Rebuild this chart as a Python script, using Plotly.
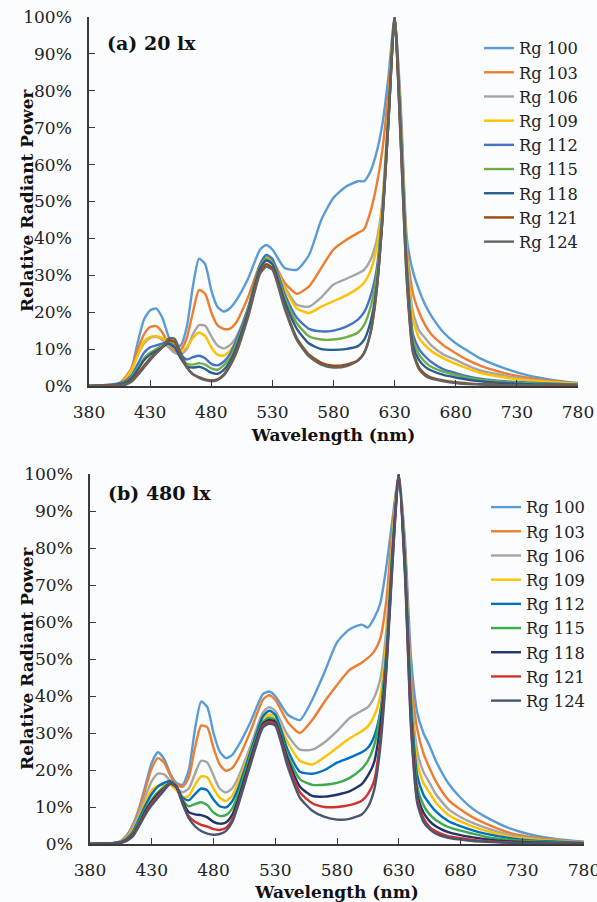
import plotly.graph_objects as go

wavelength = [380, 400, 405, 410, 415, 420, 425, 430, 435, 440, 445, 450, 455, 460, 465, 470,
              475, 480, 485, 490, 495, 500, 510, 520, 525, 530, 540, 550, 560, 570, 580, 590,
              600, 605, 610, 615, 620, 625, 630, 635, 640, 645, 650, 655, 660, 670, 680, 690,
              700, 720, 740, 760, 780]

series_names = ["Rg 100", "Rg 103", "Rg 106", "Rg 109", "Rg 112", "Rg 115", "Rg 118", "Rg 121", "Rg 124"]

# ---------- Panel (a) 20 lx : relative radiant power (%) ----------
a_rg100 = [0, 0.3, 0.8, 2, 5, 12, 18, 20.5, 21, 18.5, 13.5, 10.5, 11, 16, 27, 34.5,
           33, 26, 21.5, 20.2, 21, 23, 29, 37, 38.2, 37, 32, 31.5, 35.5, 45, 51, 54,
           55.5, 55.5, 58, 63, 71, 84, 100, 76, 40, 31, 26, 22, 19, 14.5, 11.6, 9.5,
           7.5, 4.8, 2.8, 1.6, 0.8]
a_rg103 = [0, 0.3, 0.8, 2.5, 5, 10, 14, 16, 16.2, 14.5, 11.5, 9.5, 9.8, 13, 20, 26,
           25, 20, 16.5, 15.5, 15.5, 17, 24, 33, 35, 34, 28, 25, 27, 32, 37, 39.5,
           41.5, 42.5, 47, 54, 64, 80, 100, 73, 37, 25, 20, 16.5, 14, 11, 8.9, 7,
           5.5, 3.5, 2.2, 1.3, 0.7]
a_rg106 = [0, 0.3, 0.6, 2, 4.5, 8.5, 11.5, 13, 13.3, 12.5, 10.5, 9, 8.5, 10, 14, 16.5,
           16.3, 13.5, 11, 10.2, 11, 13, 21, 32, 34.5, 33.5, 27, 22, 21.5, 24, 27.5, 29,
           30.5, 31.5, 34, 39, 50, 75, 100, 72, 36, 20, 15, 13, 11, 8.5, 7.1, 5.5,
           4.2, 2.8, 1.8, 1.1, 0.6]
a_rg109 = [0, 0.3, 0.6, 2, 4.5, 8.5, 12, 13.3, 13.5, 13, 12, 10.5, 9.5, 10.5, 13, 14.5,
           13.5, 10.5, 8.5, 8.2, 9.5, 12, 20, 32, 35, 34, 26.5, 21, 19.8, 21.5, 23, 24.5,
           26.5, 28, 31, 37, 49, 75, 100, 71, 35, 18, 13, 11, 9.5, 7.5, 6, 4.7,
           3.6, 2.3, 1.5, 1, 0.6]
a_rg112 = [0, 0.5, 0.8, 1.5, 3, 6, 9, 10.5, 11, 11.5, 12, 11, 8.5, 7.2, 7.8, 8.2,
           7.5, 6, 5.6, 6.5, 8.5, 12, 21, 33, 35.5, 34.5, 25, 18.5, 15.5, 14.8, 15, 16,
           18, 20, 24, 31, 47, 74, 100, 70, 33, 14, 10, 8, 6.5, 4.5, 3.5, 2.6,
           2, 1.3, 0.9, 0.6, 0.4]
a_rg115 = [0, 0.3, 0.5, 1.2, 2.5, 5, 7.5, 9, 10, 11, 12, 11, 8, 6, 5.8, 6.2,
           5.8, 4.8, 4.4, 5.5, 7.5, 11, 20.5, 32.5, 34.5, 33.5, 24, 17, 13.5, 12.6, 12.6, 13.2,
           14.5, 16.5, 21, 29, 46, 73, 100, 69, 32, 12.5, 8.5, 6.5, 5.2, 3.8, 3, 2.2,
           1.7, 1.1, 0.7, 0.5, 0.3]
a_rg118 = [0, 0.3, 0.5, 1, 2.2, 4.5, 7, 8.5, 9.5, 10.5, 11.5, 10.5, 7.5, 5.3, 5, 5.2,
           4.6, 3.6, 3.3, 4.3, 6.5, 10, 20, 32, 34, 33, 23, 15.5, 11.5, 10, 9.8, 10,
           10.8, 12.5, 17, 26, 45, 72, 100, 68, 31, 11, 7, 5.2, 4.2, 3, 2.3, 1.7,
           1.3, 0.8, 0.5, 0.4, 0.3]
a_rg121 = [0, 0.2, 0.3, 0.6, 1.5, 3.5, 5.5, 7.5, 9, 10.5, 12.3, 12, 8.5, 5, 3.2, 2.4,
           1.8, 1.5, 1.8, 3, 5.5, 9, 19, 31, 33, 32, 21.5, 13, 8.5, 6.3, 5.5, 5.8,
           7, 9, 14, 25, 45, 72, 100, 66, 29, 9.5, 5, 3.2, 2.3, 1.5, 1, 0.7,
           0.5, 0.3, 0.2, 0.2, 0.2]
a_rg124 = [0, 0.1, 0.2, 0.4, 1.2, 3, 5, 7, 8.8, 10.5, 12.8, 12.8, 9, 5.2, 3.2, 2.2,
           1.6, 1.3, 1.6, 2.8, 5.2, 8.5, 18.5, 30.5, 32.3, 31.5, 21, 12.5, 8, 5.8, 5, 5.3,
           6.8, 8.8, 14, 25, 45, 72, 100, 66, 28, 9, 4.5, 2.8, 2, 1.3, 0.8, 0.5,
           0.4, 0.2, 0.2, 0.1, 0.1]

# ---------- Panel (b) 480 lx ----------
b_rg100 = [0, 0.3, 0.8, 2.5, 5.5, 10, 16, 22, 24.8, 23, 19, 16.5, 16, 20, 31, 38.5,
           37, 30, 25, 23.2, 24, 26.5, 33, 40.5, 41.2, 40, 35, 33.5, 39, 46.5, 54.5, 58,
           59.3, 58.5, 61, 65, 75, 88, 100, 82, 50, 35.5, 30, 26.5, 22.5, 16.5, 12.5, 9.5,
           7.4, 4.2, 2.3, 1.2, 0.6]
b_rg103 = [0, 0.3, 0.8, 2.3, 5, 9.5, 15, 20.5, 23.2, 22, 18.5, 16, 15.5, 18, 26, 32,
           31.5, 26, 21.5, 19.8, 20.5, 23, 30.5, 39, 40.2, 39, 33, 30, 33.5, 38.5, 43, 47,
           49, 50.3, 52, 55.5, 66, 86, 100, 80, 45, 31, 24.5, 20.5, 17, 12, 9.3, 7.2,
           5.6, 3, 1.7, 1, 0.5]
b_rg106 = [0, 0.3, 0.7, 2, 4.5, 8.5, 13, 17, 19, 18.8, 17, 15, 14, 15, 19, 22.5,
           22, 18.5, 15, 13.9, 15, 18, 26.5, 35.5, 37, 36, 29.5, 25.5, 25.5, 27.5, 30.5, 34,
           36, 37, 39.5, 44.6, 58, 83, 100, 79, 42, 25, 19.5, 16.5, 13.5, 9.5, 7.3, 5.7,
           4.4, 2.4, 1.4, 0.8, 0.5]
b_rg109 = [0, 0.3, 0.6, 1.8, 4, 7.5, 11.5, 14.5, 15.8, 16, 16, 14.5, 12.7, 13, 16, 18.3,
           18, 15, 12.5, 11.6, 13, 16.5, 25.5, 34, 35, 34.5, 27.5, 22.5, 21.5, 23.5, 26, 28.5,
           30.5, 31.8, 34.5, 40, 55, 82, 100, 78, 40, 22, 16.5, 13.8, 11.2, 7.9, 6.1, 4.7,
           3.6, 2, 1.2, 0.7, 0.4]
b_rg112 = [0, 0.3, 0.6, 1.6, 3.5, 7, 10.5, 13.5, 15.5, 16.5, 17, 15.5, 12.5, 11.8, 13.5, 15,
           14.5, 12, 10.2, 9.9, 11.5, 15, 25, 34.5, 36, 35, 25.5, 19.5, 19, 20, 22, 23.3,
           24.8, 26, 29, 35.6, 52, 80, 100, 77, 38, 18.5, 13.3, 10.8, 8.8, 6.2, 4.8, 3.7,
           2.8, 1.6, 0.9, 0.6, 0.3]
b_rg115 = [0, 0.3, 0.5, 1.4, 3, 6.2, 9.5, 12, 14, 15.5, 16.5, 15.5, 12, 10.2, 10.8, 11.3,
           10.5, 8.5, 7.6, 7.8, 9.5, 13.5, 24, 33, 34.2, 33.5, 24, 17.5, 16, 16, 16.5, 17.8,
           20.3, 22.5, 26.5, 35, 50, 79, 100, 76, 36, 15.5, 10.5, 8, 6.5, 4.6, 3.6, 2.8,
           2, 1.1, 0.7, 0.4, 0.3]
b_rg118 = [0, 0.2, 0.4, 1.2, 2.7, 5.6, 9, 11.5, 13.5, 15, 16.5, 15.5, 11.5, 8.6, 8, 7.8,
           7.2, 6, 5.5, 5.8, 7.8, 12, 23, 32.5, 33.5, 33, 23, 15.5, 13, 12.8, 13.3, 14.2,
           16.2, 18.5, 22, 32, 49, 78, 100, 75, 34, 13.5, 8.5, 6.2, 4.8, 3.2, 2.4, 1.8,
           1.3, 0.7, 0.4, 0.3, 0.2]
b_rg121 = [0, 0.2, 0.4, 1.1, 2.5, 5.3, 8.5, 11, 13, 14.8, 16.5, 15.3, 11, 7.5, 6, 5.2,
           4.7, 4, 3.8, 4.3, 6.5, 11, 22, 32, 33, 32.5, 22, 14, 11, 10, 10, 10.5,
           11.7, 13.5, 17, 28, 48, 77, 100, 74, 32, 12, 7, 4.6, 3.4, 2.1, 1.6, 1.1,
           0.8, 0.4, 0.3, 0.2, 0.1]
b_rg124 = [0, 0.2, 0.3, 0.9, 2.2, 5, 8, 10.5, 12.5, 14.5, 16.3, 15.3, 10.8, 7, 4.8, 3.5,
           2.8, 2.5, 2.7, 3.5, 5.8, 10.5, 21.5, 31.5, 32.5, 32, 21, 12.5, 9, 7.3, 6.6, 6.8,
           8, 10, 14.5, 26, 47, 76, 100, 73, 31, 11, 6, 4, 2.8, 1.7, 1.2, 0.8,
           0.6, 0.3, 0.2, 0.1, 0.1]

panel_a = [a_rg100, a_rg103, a_rg106, a_rg109, a_rg112, a_rg115, a_rg118, a_rg121, a_rg124]
panel_b = [b_rg100, b_rg103, b_rg106, b_rg109, b_rg112, b_rg115, b_rg118, b_rg121, b_rg124]

colors_a = ["#5B9BD5", "#ED7D31", "#A5A5A5", "#FFC000", "#4472C4", "#70AD47", "#255E91", "#9E480E", "#636363"]
colors_b = ["#5B9BD5", "#ED7D31", "#A5A5A5", "#FFC000", "#0070C0", "#3DAA4B", "#1F3469", "#D0312D", "#4A5670"]

x_ticks = [380, 430, 480, 530, 580, 630, 680, 730, 780]
y_ticks = [0, 10, 20, 30, 40, 50, 60, 70, 80, 90, 100]
y_tick_labels = ["0%", "10%", "20%", "30%", "40%", "50%", "60%", "70%", "80%", "90%", "100%"]

SERIF = "DejaVu Serif"
fig = go.Figure()

for name, ys, col in zip(series_names, panel_a, colors_a):
    fig.add_trace(go.Scatter(x=wavelength, y=ys, name=name, mode="lines",
                             line=dict(color=col, width=2.4, shape="spline", smoothing=0.6),
                             xaxis="x", yaxis="y", legend="legend"))
for name, ys, col in zip(series_names, panel_b, colors_b):
    fig.add_trace(go.Scatter(x=wavelength, y=ys, name=name, mode="lines",
                             line=dict(color=col, width=2.4, shape="spline", smoothing=0.6),
                             xaxis="x2", yaxis="y2", legend="legend2"))

W, H = 597, 902

def xdom(l, r):
    return [l / W, r / W]

def ydom(bottom, top):
    return [1 - bottom / H, 1 - top / H]

axis_common = dict(showline=True, linecolor="#3a3a3a", linewidth=1.5, ticks="inside",
                   ticklen=6, tickwidth=1.3, tickcolor="#3a3a3a", showgrid=False, zeroline=False,
                   automargin=False, ticklabeloverflow="allow",
                   tickfont=dict(family=SERIF, size=17, color="#222"))

title_font = dict(family=SERIF, size=17, color="#111", weight="bold")
legend_font = dict(family=SERIF, size=16.3, color="#222")

fig.update_layout(
    width=W, height=H,
    margin=dict(l=0, r=0, t=0, b=0),
    paper_bgcolor="#fafcfd", plot_bgcolor="#fafcfd",
    xaxis=dict(domain=xdom(89, 578), range=[380, 780], tickvals=x_ticks, anchor="y",
               ticklabelstandoff=10,
               title=dict(text="Wavelength (nm)", font=title_font, standoff=8), **axis_common),
    yaxis=dict(domain=ydom(386, 17), range=[0, 100], tickvals=y_ticks, ticktext=y_tick_labels,
               anchor="x", ticklabelstandoff=12, **axis_common),
    xaxis2=dict(domain=xdom(90, 584), range=[380, 780], tickvals=x_ticks, anchor="y2",
                ticklabelstandoff=10,
                title=dict(text="Wavelength (nm)", font=title_font, standoff=8), **axis_common),
    yaxis2=dict(domain=ydom(844, 474), range=[0, 100], tickvals=y_ticks, ticktext=y_tick_labels,
                anchor="x2", ticklabelstandoff=12, **axis_common),
    legend=dict(x=479 / W, y=1 - 31 / H, xanchor="left", yanchor="top",
                bgcolor="rgba(0,0,0,0)", font=legend_font),
    legend2=dict(x=486 / W, y=1 - 490 / H, xanchor="left", yanchor="top",
                 bgcolor="rgba(0,0,0,0)", font=legend_font),
    annotations=[
        dict(text="(a) 20 lx", x=105 / W, y=1 - 43 / H, xref="paper", yref="paper",
             xanchor="left", yanchor="middle", showarrow=False,
             font=dict(family=SERIF, size=19, color="#111", weight="bold")),
        dict(text="(b) 480 lx", x=106 / W, y=1 - 493 / H, xref="paper", yref="paper",
             xanchor="left", yanchor="middle", showarrow=False,
             font=dict(family=SERIF, size=19, color="#111", weight="bold")),
        dict(text="Relative Radiant Power", x=27 / W, y=1 - 201 / H, xref="paper", yref="paper",
             xanchor="center", yanchor="middle", textangle=-90, showarrow=False,
             font=title_font),
        dict(text="Relative Radiant Power", x=27 / W, y=1 - 659 / H, xref="paper", yref="paper",
             xanchor="center", yanchor="middle", textangle=-90, showarrow=False,
             font=title_font),
    ],
)

fig.write_html("out.html", config={"displayModeBar": False},
               post_script="document.body.style.margin='0';")
